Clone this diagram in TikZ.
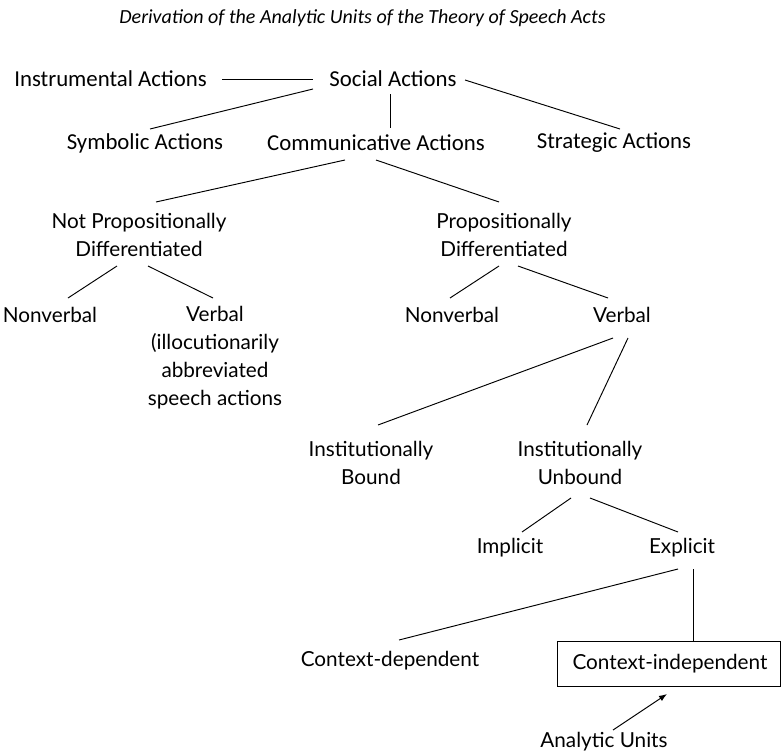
\documentclass[tikz,border=0pt]{standalone}
\usepackage{fontspec}
\setmainfont{Carlito}
\newfontfamily\lowfont{Lato}
\usetikzlibrary{arrows.meta,calc}
\tikzset{
  top/.style={font=\fontsize{22.8}{27}\selectfont, inner sep=0pt, align=center},
  low/.style={font=\lowfont\fontsize{20.7}{28}\selectfont, inner sep=0pt, align=center},
  conn/.style={line width=0.95pt, black},
}
\newcommand{\at}[3]{([xshift=#2pt,yshift=-#3pt]#1.center)}
\begin{document}
\begin{tikzpicture}[x=1pt,y=-1pt]
\useasboundingbox (0,0) rectangle (781,755);
\node (title) at (362.5,18) {\fontsize{20}{24}\selectfont\itshape Derivation of the Analytic Units of the Theory of Speech Acts};
\node[top] (inst) at (110.5,79) {Instrumental Actions};
\node[top] (soc) at (393,79) {Social Actions};
\node[top] (sym) at (145,143) {Symbolic Actions};
\node[top] (com) at (376,143) {Communicative Actions};
\node[top] (str) at (614,143) {Strategic Actions};
\node[low] (np) at (139,235) {Not Propositionally\\Differentiated};
\node[low] (pd) at (504,235) {Propositionally\\Differentiated};
\node[low] (nv1) at (50,315) {Nonverbal};
\node[low] (vb1) at (215,358) {Verbal\\(illocutionarily\\abbreviated\\speech actions};
\node[low] (nv2) at (452,315) {Nonverbal};
\node[low] (vb2) at (622,315) {Verbal};
\node[low] (ib) at (371,462.5) {Institutionally\\Bound};
\node[low] (iu) at (580,462.5) {Institutionally\\Unbound};
\node[low] (imp) at (510,548) {Implicit};
\node[low] (exp) at (682,548) {Explicit};
\node[low] (cd) at (390,661) {Context-dependent};
\node[low, draw, line width=0.95pt, minimum width=223pt, minimum height=45pt] (ci) at (668.5,663.5) {\hspace*{3pt}Context-independent};
\node[low] (au) at (604,742) {Analytic Units};

\draw[conn] \at{inst}{111.5}{0} -- \at{soc}{-80}{0};
\draw[conn] \at{soc}{-80}{10} -- \at{sym}{5}{-14};
\draw[conn] \at{soc}{-3}{15} -- \at{com}{14}{-15};
\draw[conn] \at{soc}{72}{1} -- \at{str}{6}{-14};
\draw[conn] \at{com}{-31}{17} -- \at{np}{17}{-33};
\draw[conn] \at{com}{0}{17} -- \at{pd}{-5}{-33};
\draw[conn] \at{np}{-22}{31} -- \at{nv1}{18}{-17};
\draw[conn] \at{np}{9}{31} -- \at{vb1}{-2}{-60};
\draw[conn] \at{pd}{-5}{31} -- \at{nv2}{-2}{-17};
\draw[conn] \at{pd}{14}{31} -- \at{vb2}{-14}{-17};
\draw[conn] \at{vb2}{-9}{23} -- \at{ib}{7}{-37.5};
\draw[conn] \at{vb2}{6}{23} -- \at{iu}{7}{-37.5};
\draw[conn] \at{iu}{-9}{35.5} -- \at{imp}{12}{-16};
\draw[conn] \at{iu}{10}{35.5} -- \at{exp}{-4}{-16};
\draw[conn] \at{exp}{-4}{21} -- \at{cd}{9}{-21};
\draw[conn] \at{exp}{11}{21} -- \at{ci}{24.5}{-22.5};
\draw[conn, -{Latex[length=8pt,width=6pt]}] \at{au}{9}{-12} -- \at{ci}{-1.5}{30.5};
\end{tikzpicture}
\end{document}
